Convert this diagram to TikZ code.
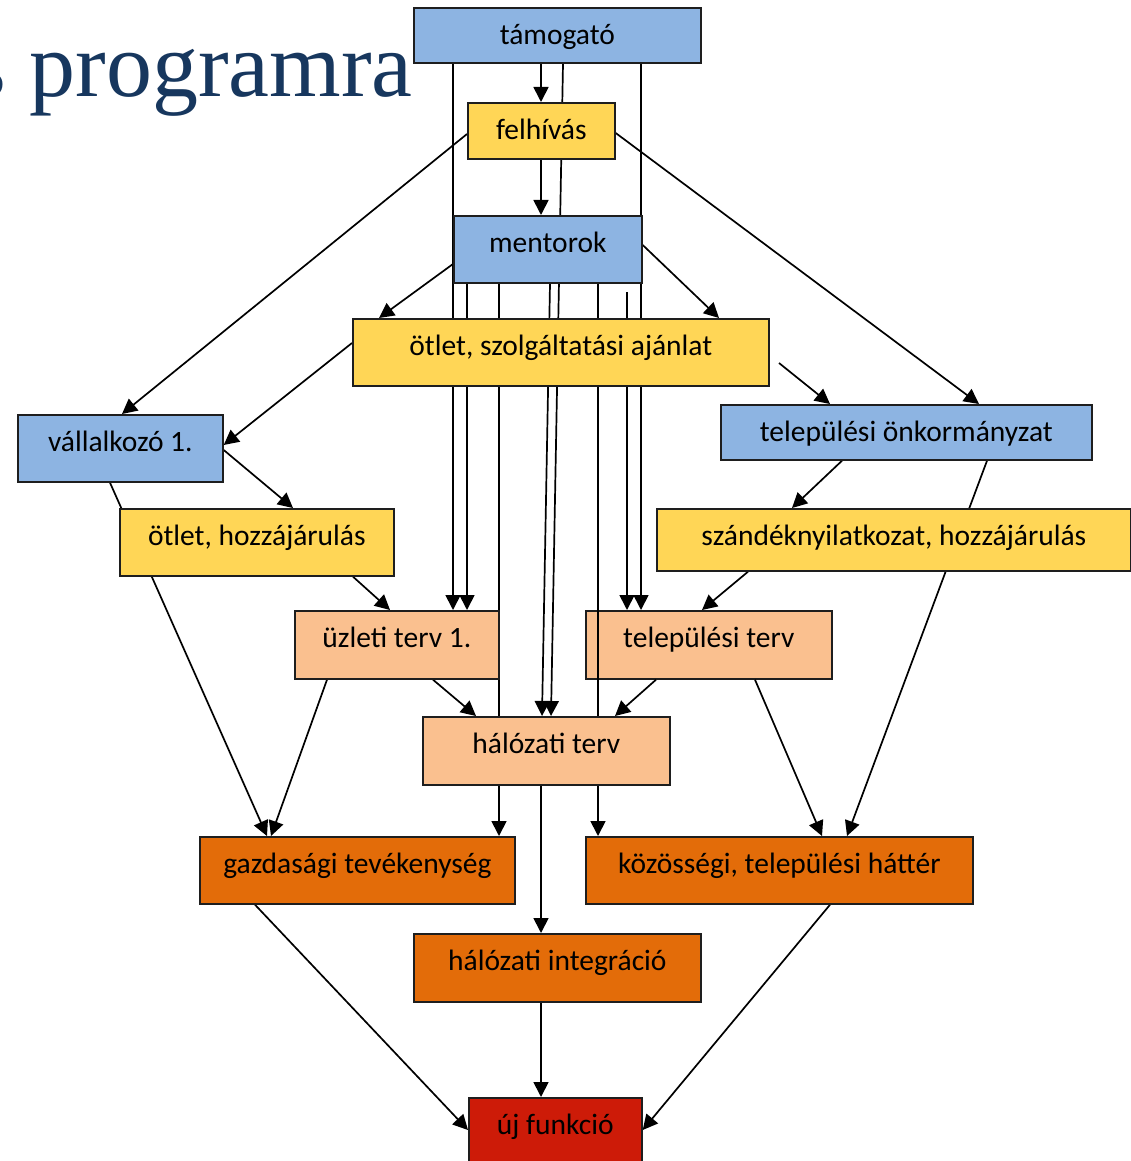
\documentclass[tikz,border=0pt]{standalone}
\usepackage{fontspec}
\setmainfont{Carlito}
\newfontfamily\titlefont{Liberation Serif}
\usetikzlibrary{arrows.meta}
\pgfdeclarelayer{bg}
\pgfdeclarelayer{mid}
\pgfsetlayers{bg,mid,main}
\definecolor{cblue}{RGB}{141,180,226}
\definecolor{cyellow}{RGB}{255,214,86}
\definecolor{cpeach}{RGB}{250,192,143}
\definecolor{corange}{RGB}{227,108,9}
\definecolor{cred}{RGB}{205,27,8}
\definecolor{ctitle}{RGB}{23,55,94}
\definecolor{cborder}{RGB}{30,30,30}
\begin{document}
\begin{tikzpicture}[x=1pt,y=-1pt,
  box/.style={draw=cborder, line width=1.7pt, anchor=north west, inner xsep=2pt,
    inner ysep=0pt, text height=36.5pt, font=\fontsize{29.5}{31}\selectfont},
  conn/.style={line width=1.7pt, draw=black, -{Triangle[length=15pt,width=15pt]}}]
\useasboundingbox (0,0) rectangle (1131,1161);

\begin{pgfonlayer}{bg}
\begin{scope}
\clip (0,0) rectangle (1131,1161);
\node[anchor=base east, inner sep=0pt, text=ctitle,
  font=\titlefont\fontsize{92}{92}\selectfont] (title) at (413,97) {s programra};
\end{scope}
\node[box, fill=cpeach, minimum width=246pt, text depth=31.5pt] (telterv) at (585,610) {települési terv};
\end{pgfonlayer}

\node[box, fill=cblue, minimum width=287pt, text depth=18.5pt] (tam) at (413,7) {támogató};
\node[box, fill=cyellow, minimum width=147pt, text depth=19.5pt] (felh) at (467,102) {felhívás};
\node[box, fill=cblue, minimum width=188pt, text depth=30.5pt] (ment) at (453,215) {mentorok};
\node[box, fill=cyellow, minimum width=416pt, text depth=30.5pt] (otlet) at (352,318) {ötlet, szolgáltatási ajánlat};
\node[box, fill=cblue, minimum width=205pt, text depth=30.5pt] (vall) at (17,414) {vállalkozó 1.};
\node[box, fill=cblue, minimum width=371pt, text depth=18.5pt] (onk) at (720,404) {települési önkormányzat};
\node[box, fill=cyellow, minimum width=274pt, text depth=30.5pt] (hozz) at (119,508) {ötlet, hozzájárulás};
\node[box, fill=cyellow, minimum width=474pt, text depth=25.5pt] (szand) at (656,508) {szándéknyilatkozat, hozzájárulás};
\node[box, fill=cpeach, minimum width=204pt, text depth=31.5pt] (uzl) at (294,610) {üzleti terv 1.};
\node[box, fill=cpeach, minimum width=247pt, text depth=31.5pt] (halterv) at (422,716) {hálózati terv};
\node[box, fill=corange, minimum width=315pt, text depth=30.5pt] (gazd) at (199,836) {gazdasági tevékenység};
\node[box, fill=corange, minimum width=387pt, text depth=30.5pt] (kozos) at (585,836) {közösségi, települési háttér};
\node[box, fill=corange, minimum width=287pt, text depth=31.5pt] (integ) at (413,933) {hálózati integráció};
\node[box, fill=cred, minimum width=173pt, text depth=43.5pt] (uj) at (468,1097) {új funkció};

\coordinate (c627) at (627,292);
\coordinate (c779) at (779,363);

\begin{pgfonlayer}{mid}
\draw[conn] (tam.south -| 541,0) -- (felh.north -| 541,0);
\draw[conn] (felh.south -| 541,0) -- (ment.north -| 541,0);
\draw[conn] (tam.south -| 453,0) -- (uzl.north -| 453,0);
\draw[conn] (tam.south -| 641,0) -- (telterv.north -| 641,0);
\draw[conn] (tam.south -| 563,0) -- (halterv.north -| 551,0);
\draw[conn] (ment.south -| 467,0) -- (uzl.north -| 467,0);
\draw[conn] (ment.south -| 499,0) -- (gazd.north -| 499,0);
\draw[conn] (ment.south -| 550,0) -- (halterv.north -| 542,0);
\draw[conn] (ment.south -| 598,0) -- (kozos.north -| 598,0);
\draw[conn] (c627) -- (telterv.north -| 627,0);
\draw[conn] (ment.west |- 0,264) -- (otlet.north -| 379,0);
\draw[conn] (ment.east |- 0,245) -- (otlet.north -| 719,0);
\draw[conn] (felh.west |- 0,134) -- (vall.north -| 122,0);
\draw[conn] (felh.east |- 0,133) -- (onk.north -| 979,0);
\draw[conn] (otlet.west |- 0,343) -- (vall.east |- 0,445);
\draw[conn] (c779) -- (onk.north -| 830,0);
\draw[conn] (vall.east |- 0,450) -- (hozz.north -| 293,0);
\draw[conn] (vall.south -| 110,0) -- (gazd.north -| 267,0);
\draw[conn] (hozz.south -| 353,0) -- (uzl.north -| 390,0);
\draw[conn] (uzl.south -| 327,0) -- (gazd.north -| 271,0);
\draw[conn] (uzl.south -| 433,0) -- (halterv.north -| 476,0);
\draw[conn] (onk.south -| 842,0) -- (szand.north -| 792,0);
\draw[conn] (onk.south -| 987,0) -- (kozos.north -| 847,0);
\draw[conn] (szand.south -| 748,0) -- (telterv.north -| 702,0);
\draw[conn] (telterv.south -| 656,0) -- (halterv.north -| 615,0);
\draw[conn] (telterv.south -| 755,0) -- (kozos.north -| 822,0);
\draw[conn] (halterv.south -| 541,0) -- (integ.north -| 541,0);
\draw[conn] (gazd.south -| 255,0) -- (uj.west |- 0,1130);
\draw[conn] (kozos.south -| 830,0) -- (uj.east |- 0,1130);
\draw[conn] (integ.south -| 541,0) -- (uj.north -| 541,0);
\end{pgfonlayer}
\end{tikzpicture}
\end{document}
